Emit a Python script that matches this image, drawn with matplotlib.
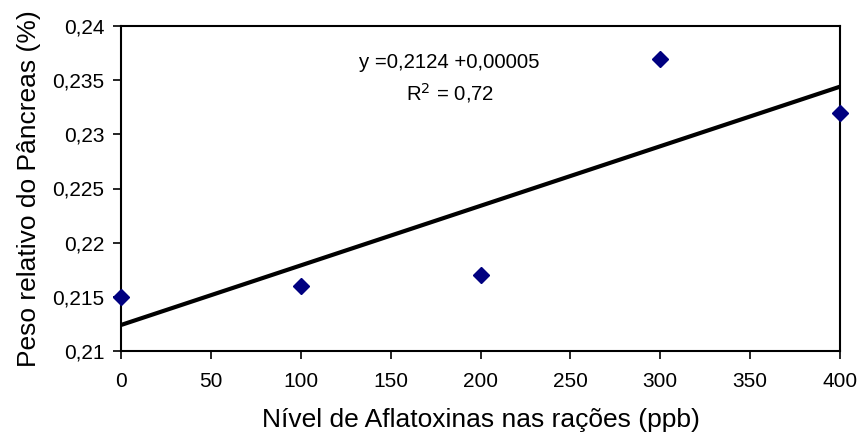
import matplotlib
matplotlib.use("Agg")
import matplotlib.pyplot as plt
import numpy as np
from matplotlib.ticker import FuncFormatter

plt.rcParams['font.family'] = ['Liberation Sans', 'DejaVu Sans']

aflatoxin_ppb = [0, 100, 200, 300, 400]
pancreas_pct = [0.215, 0.216, 0.217, 0.237, 0.232]
x_ticks = [0, 50, 100, 150, 200, 250, 300, 350, 400]
y_ticks = [0.21, 0.215, 0.22, 0.225, 0.23, 0.235, 0.24]

fig = plt.figure(figsize=(8.6, 4.41), dpi=100)
ax = fig.add_axes([121/860, 1-351/441, (840-121)/860, (351-26)/441])

slope, intercept = np.polyfit(aflatoxin_ppb, pancreas_pct, 1)
xf = np.array([0, 400])
ax.plot(xf, intercept + slope*xf, color='black', lw=3.0, solid_capstyle='butt', zorder=2, clip_on=False)
ax.plot(aflatoxin_ppb, pancreas_pct, linestyle='none', marker='D', markersize=8,
        color='#000080', zorder=3, clip_on=False)

ax.set_xlim(0, 400)
ax.set_ylim(0.21, 0.24)
ax.set_xticks(x_ticks)
ax.set_yticks(y_ticks)

def fmt(v, pos):
    s = ('%.3f' % v).rstrip('0').rstrip('.')
    if s == '0':
        return '0'
    return s.replace('.', ',')
ax.yaxis.set_major_formatter(FuncFormatter(fmt))
ax.xaxis.set_major_formatter(FuncFormatter(lambda v, p: '%d' % v))

for sp in ax.spines.values():
    sp.set_linewidth(1.5)
    sp.set_color('black')
ax.tick_params(axis='both', direction='out', length=6, width=1.2, labelsize=15, colors='black')
ax.tick_params(axis='x', pad=9)
ax.tick_params(axis='y', pad=6)

ax.set_xlabel('Nível de Aflatoxinas nas rações (ppb)', fontsize=19, labelpad=12)
ax.set_ylabel('Peso relativo do Pâncreas (%)', fontsize=19, labelpad=8)

fig.text(449/860, 1-63/441, 'y =0,2124 +0,00005', ha='center', va='center', fontsize=14.7)
fig.text(450/860, 1-93/441, 'R$^2$ = 0,72', ha='center', va='center', fontsize=14.7)

fig.savefig('out.png', dpi=100)
